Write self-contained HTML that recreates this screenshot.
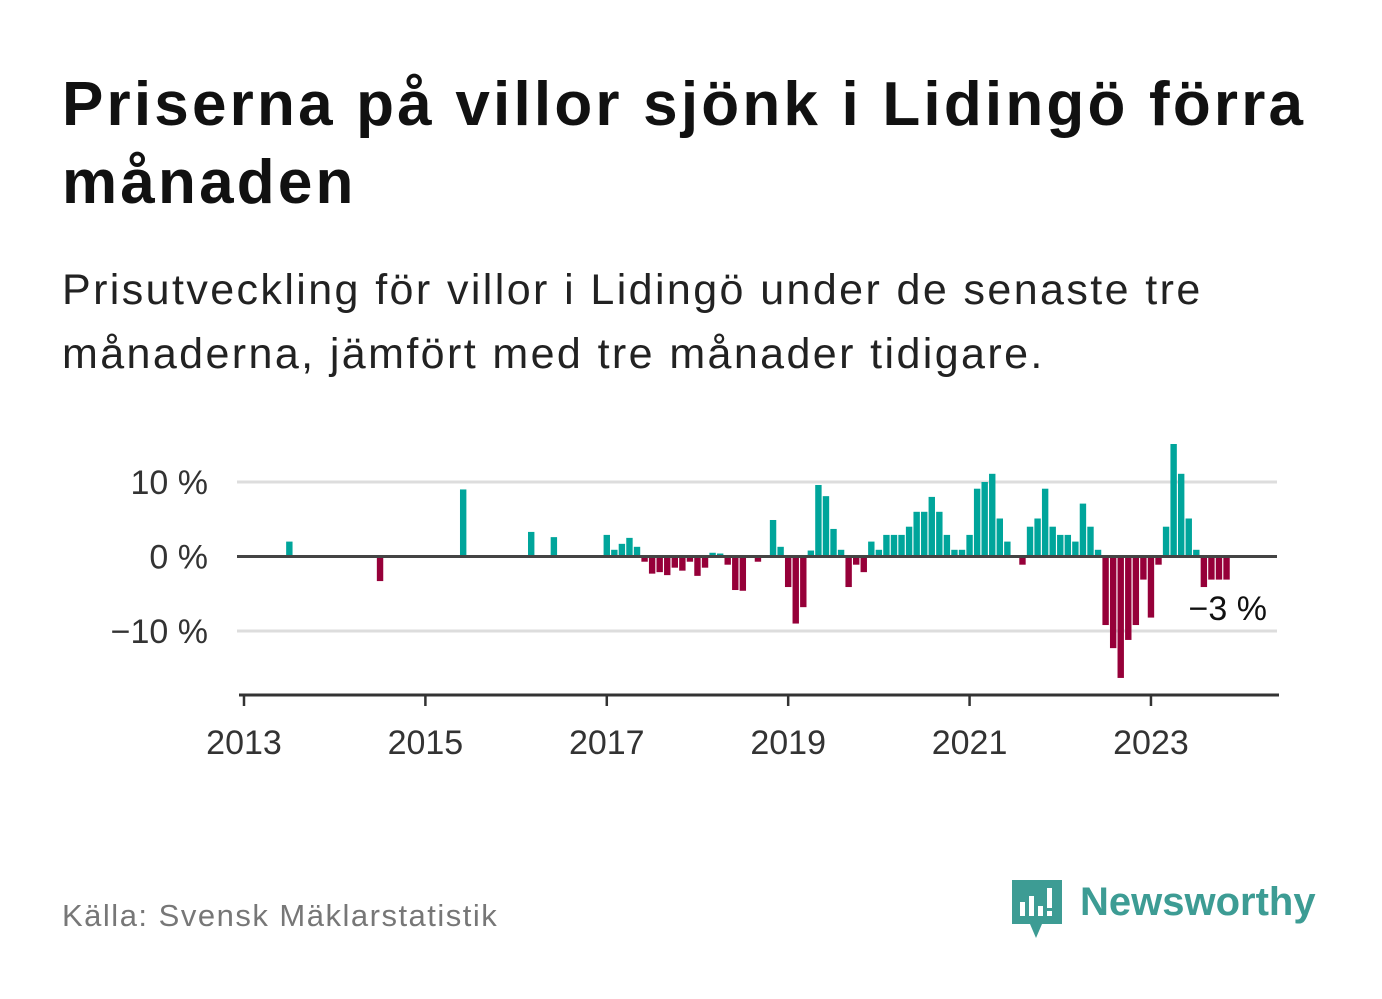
<!DOCTYPE html>
<html><head><meta charset="utf-8"><style>
body{margin:0;width:1382px;height:999px;background:#fff;overflow:hidden;font-family:"Liberation Sans",sans-serif;}
h1{position:absolute;left:62px;top:66px;margin:0;font-size:62px;line-height:78px;font-weight:bold;color:#111;letter-spacing:3.2px;}
.sub{position:absolute;left:62px;top:258px;margin:0;font-size:43px;line-height:64px;color:#222;letter-spacing:2.4px;}
.src{position:absolute;left:62px;top:898px;font-size:31px;color:#777;letter-spacing:1.5px;}
.logo{position:absolute;left:1012px;top:880px;}
.logotext{position:absolute;left:1080px;top:880px;font-size:40px;font-weight:bold;color:#3d9c94;}
svg text{font-family:"Liberation Sans",sans-serif;}
</style></head><body>
<h1>Priserna på villor sjönk i Lidingö förra<br>månaden</h1>
<p class="sub">Prisutveckling för villor i Lidingö under de senaste tre<br>månaderna, jämfört med tre månader tidigare.</p>
<svg id="chart" width="1382" height="999" style="position:absolute;left:0;top:0"></svg>
<div class="src">Källa: Svensk Mäklarstatistik</div>
<svg class="logo" width="52" height="60" viewBox="0 0 52 60">
<path d="M0 0H50V44H30L24 58L18 44H0Z" fill="#3d9c94"/>
<rect x="8" y="22" width="5" height="14" fill="#fff"/><rect x="17" y="16" width="5" height="20" fill="#fff"/><rect x="26" y="26" width="5" height="10" fill="#fff"/><rect x="35" y="8" width="5" height="20" fill="#fff"/><rect x="35" y="31" width="5" height="5" fill="#fff"/>
</svg>
<div class="logotext">Newsworthy</div>
<script>
const values = [0,0,0,0,0,0,2,0,0,0,0,0, 0,0,0,0,0,0,-3.3,0,0,0,0,0, 0,0,0,0,0,9,0,0,0,0,0,0, 0,0,3.3,0,0,2.6,0,0,0,0,0,0,
2.9,0.9,1.7,2.5,1.3,-0.7,-2.3,-2.1,-2.5,-1.5,-1.9,-0.7, -2.6,-1.5,0.5,0.4,-1.1,-4.5,-4.6,0,-0.7,0,4.9,1.3,
-4.1,-9,-6.8,0.8,9.6,8.1,3.7,0.9,-4.1,-1.1,-2.1,2, 0.9,2.9,2.9,2.9,4,6,6,8,6,2.9,0.9,0.9,
2.9,9.1,10,11.1,5.1,2,0,-1.1,4,5.1,9.1,4, 2.9,2.9,2,7.1,4,0.9,-9.2,-12.3,-16.3,-11.2,-9.2,-3.1,
-8.2,-1.1,4,15.1,11.1,5.1,0.9,-4.1,-3.1,-3.1,-3.1];
const yTicks = [10,0,-10];
const yTickLabels = ["10 %","0 %","−10 %"];
const xTickYears = [2013,2015,2017,2019,2021,2023];
const lastLabel = "−3 %";
const NS="http://www.w3.org/2000/svg";
const svg=document.getElementById('chart');
const x=i=>244+i*7.558;
const y=v=>556.5-v*7.45;
function mk(t,a){const e=document.createElementNS(NS,t);for(const k in a)e.setAttribute(k,a[k]);svg.appendChild(e);return e;}
yTicks.forEach((t,j)=>{
  if(t!==0){const g=mk('line',{x1:237,x2:1277,y1:y(t),y2:y(t),stroke:'#ddd','stroke-width':3});
  
  }
  const l=mk('text',{x:208,y:y(t)+12,'text-anchor':'end','font-size':34,fill:'#333'});l.textContent=yTickLabels[j];
  
  
});
values.forEach((v,i)=>{
  if(v===0)return;
  const r=mk('rect',{x:x(i)-3.2,width:6.4,y:v>0?y(v):y(0),height:Math.abs(y(v)-y(0)),fill:v>0?'#00a59b':'#960039'});
  
  
});
const z=mk('line',{x1:237,x2:1277,y1:y(0),y2:y(0),stroke:'#444','stroke-width':3});


const ax=mk('line',{x1:239,x2:1279,y1:695,y2:695,stroke:'#333','stroke-width':3});


xTickYears.forEach(yr=>{
  const xi=x((yr-2013)*12);
  const tk=mk('line',{x1:xi,x2:xi,y1:695,y2:706,stroke:'#333','stroke-width':2.5});
  
  
  const t=mk('text',{x:xi,y:754,'text-anchor':'middle','font-size':34,fill:'#333'});t.textContent=yr;
  
  
});
const ll=mk('text',{x:1267,y:620,'text-anchor':'end','font-size':34,fill:'#111'});ll.textContent=lastLabel;


</script>
</body></html>
